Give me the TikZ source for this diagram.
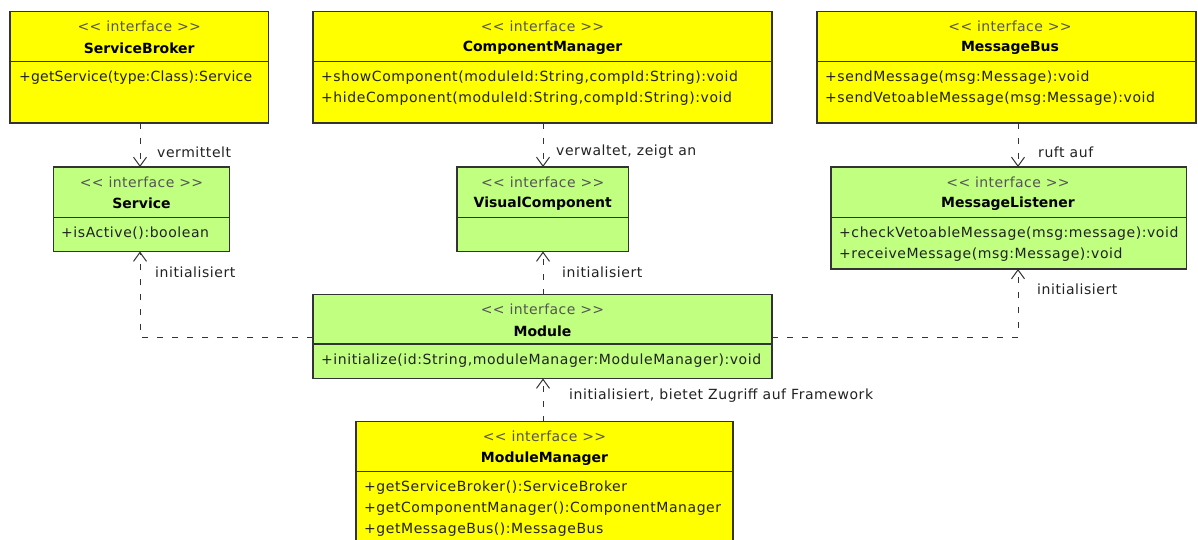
\documentclass[tikz,border=0pt]{standalone}
\usepackage{fontspec}
\usetikzlibrary{arrows.meta}
\newfontfamily\umlfont{DejaVu Sans}[LetterSpace=4]
\newfontfamily\umltightfont{DejaVu Sans}[LetterSpace=1.5]
\newfontfamily\umlstfont{DejaVu Sans}[LetterSpace=3]
\newfontfamily\umlnamefont{DejaVu Sans}
\definecolor{umlyellow}{HTML}{FFFF00}
\definecolor{umlgreen}{HTML}{C0FF80}
\definecolor{linegray}{HTML}{333333}
\definecolor{stereogray}{HTML}{555555}
\definecolor{textgray}{HTML}{222222}
\tikzset{
  umlbox/.style={draw=linegray, line width=1.3pt, inner sep=0pt, outer sep=0pt, anchor=north west},
  yellowbox/.style={umlbox, fill=umlyellow},
  greenbox/.style={umlbox, fill=umlgreen},
  sepline/.style={draw=linegray, line width=1.3pt},
  stereo/.style={inner sep=0pt, text=stereogray, font=\umlstfont\fontsize{14}{16}\selectfont},
  cname/.style={inner sep=0pt, text=black, font=\umlnamefont\bfseries\fontsize{14}{16}\selectfont},
  member/.style={inner sep=0pt, anchor=west, text=textgray, font=\umlfont\fontsize{14}{16}\selectfont},
  tightmember/.style={member, font=\umltightfont\fontsize{14}{16}\selectfont},
  deplabel/.style={inner sep=0pt, anchor=west, text=textgray, font=\umlfont\fontsize{14}{16}\selectfont},
  dep/.style={draw=linegray, line width=1pt, dash pattern=on 6pt off 9pt,
    -{Straight Barb[length=9pt,width=13pt,line width=1pt]}},
}
\begin{document}
\begin{tikzpicture}[x=1pt,y=-1pt]
  \useasboundingbox (0,0) rectangle (1198,540);
  \clip (0,0) rectangle (1198,540);
  \fill[white] (0,0) rectangle (1198,540);

  % ---- ServiceBroker ----
  \node[yellowbox, minimum width=258.5pt, minimum height=111.5pt] (sb) at (10,11.5) {};
  \draw[sepline] (sb.west |- 0,61.5) -- (sb.east |- 0,61.5);
  \node[stereo] (sbst) at (sb.north |- 0,26.5) {<< interface >>};
  \node[cname] (sbnm) at (sb.north |- 0,48) {ServiceBroker};
  \node[tightmember] (sbm1) at (19,78) {+getService(type:Class):Service};

  % ---- ComponentManager ----
  \node[yellowbox, minimum width=459pt, minimum height=111.5pt] (cm) at (313,11.5) {};
  \draw[sepline] (cm.west |- 0,61.5) -- (cm.east |- 0,61.5);
  \node[stereo] (cmst) at (cm.north |- 0,26.5) {<< interface >>};
  \node[cname] (cmnm) at (cm.north |- 0,48) {ComponentManager};
  \node[member] (cmm1) at (321,78) {+showComponent(moduleId:String,compId:String):void};
  \node[member] (cmm2) at (321,99) {+hideComponent(moduleId:String,compId:String):void};

  % ---- MessageBus ----
  \node[yellowbox, minimum width=379pt, minimum height=111.5pt] (mb) at (817,11.5) {};
  \draw[sepline] (mb.west |- 0,61.5) -- (mb.east |- 0,61.5);
  \node[stereo] (mbst) at (1010,26.5) {<< interface >>};
  \node[cname] (mbnm) at (1010,48) {MessageBus};
  \node[member] (mbm1) at (825,78) {+sendMessage(msg:Message):void};
  \node[member] (mbm2) at (825,99) {+sendVetoableMessage(msg:Message):void};

  % ---- Service ----
  \node[greenbox, minimum width=176pt, minimum height=84.5pt] (svc) at (53.5,167) {};
  \draw[sepline] (svc.west |- 0,217.5) -- (svc.east |- 0,217.5);
  \node[stereo] (svcst) at (svc.north |- 0,182.5) {<< interface >>};
  \node[cname] (svcnm) at (svc.north |- 0,203.5) {Service};
  \node[member] (svcm1) at (61,233) {+isActive():boolean};

  % ---- VisualComponent ----
  \node[greenbox, minimum width=171.5pt, minimum height=84.5pt] (vc) at (457,167) {};
  \draw[sepline] (vc.west |- 0,217.5) -- (vc.east |- 0,217.5);
  \node[stereo] (vcst) at (vc.north |- 0,182.5) {<< interface >>};
  \node[cname] (vcnm) at (vc.north |- 0,203.5) {VisualComponent};

  % ---- MessageListener ----
  \node[greenbox, minimum width=355.5pt, minimum height=102pt] (ml) at (831,167) {};
  \draw[sepline] (ml.west |- 0,217.5) -- (ml.east |- 0,217.5);
  \node[stereo] (mlst) at (1008,182.5) {<< interface >>};
  \node[cname] (mlnm) at (1008,203.5) {MessageListener};
  \node[member] (mlm1) at (839,233.5) {+checkVetoableMessage(msg:message):void};
  \node[member] (mlm2) at (839,255) {+receiveMessage(msg:Message):void};

  % ---- Module ----
  \node[greenbox, minimum width=459pt, minimum height=84pt] (mod) at (313,294.5) {};
  \draw[sepline] (mod.west |- 0,344) -- (mod.east |- 0,344);
  \node[stereo] (modst) at (mod.north |- 0,309.5) {<< interface >>};
  \node[cname] (modnm) at (mod.north |- 0,331) {Module};
  \node[member] (modm1) at (321,360.5) {+initialize(id:String,moduleManager:ModuleManager):void};

  % ---- ModuleManager ----
  \node[yellowbox, minimum width=377pt, minimum height=150pt] (mm) at (356,421.5) {};
  \draw[sepline] (mm.west |- 0,471.5) -- (mm.east |- 0,471.5);
  \node[stereo] (mmst) at (mm.north |- 0,436.5) {<< interface >>};
  \node[cname] (mmnm) at (mm.north |- 0,458.5) {ModuleManager};
  \node[member] (mmm1) at (364,488) {+getServiceBroker():ServiceBroker};
  \node[member] (mmm2) at (364,509) {+getComponentManager():ComponentManager};
  \node[member] (mmm3) at (364,530) {+getMessageBus():MessageBus};

  % ---- dependencies ----
  \draw[dep] (sb.south -| 140,0) -- (svc.north -| 140,0);
  \node[deplabel] (l1) at (157,152) {vermittelt};

  \draw[dep] (cm.south -| 543,0) -- (vc.north -| 543,0);
  \node[deplabel] (l2) at (556,152) {verwaltet, zeigt an};

  \draw[dep] (mb.south -| 1018,0) -- (ml.north -| 1018,0);
  \node[deplabel] (l3) at (1038,152) {ruft auf};

  \draw[dep] (mod.west |- 0,337) -| (svc.south -| 140,0);
  \node[deplabel] (l4) at (155,272) {initialisiert};

  \draw[dep] (mod.north -| 543,0) -- (vc.south -| 543,0);
  \node[deplabel] (l5) at (562,272) {initialisiert};

  \draw[dep] (mod.east |- 0,337) -| (ml.south -| 1018,0);
  \node[deplabel] (l6) at (1037,289) {initialisiert};

  \draw[dep] (mm.north -| 543,0) -- (mod.south -| 543,0);
  \node[deplabel] (l7) at (569,396) {initialisiert, bietet Zugriff auf Framework};
\end{tikzpicture}
\end{document}
